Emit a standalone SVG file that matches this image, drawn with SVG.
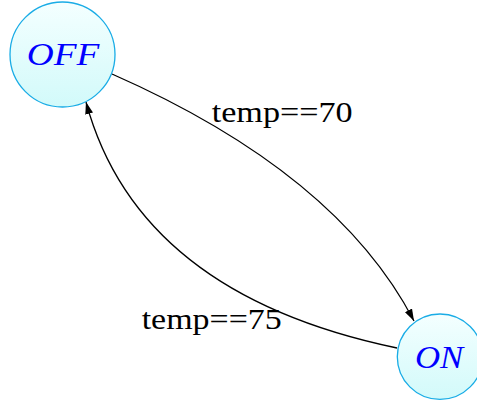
<svg xmlns="http://www.w3.org/2000/svg" width="477" height="402" viewBox="0 0 477 402">
<style>
.state{stroke:#19ace6;stroke-width:1.3;fill:url(#g)}
.slabel{font-family:"Liberation Serif",serif;font-style:italic;fill:#0000ff;font-size:32px}
.elabel{font-family:"Liberation Serif",serif;fill:#000;font-size:29px}
.edge{fill:none;stroke:#000;stroke-width:1.3}
</style>
<defs>
<linearGradient id="g" x1="0" y1="0" x2="0" y2="1">
<stop offset="0" stop-color="#f4ffff"/>
<stop offset="1" stop-color="#d2fafa"/>
</linearGradient>
<marker id="arr" viewBox="0 0 12 8" refX="12" refY="4" markerWidth="12" markerHeight="8" markerUnits="userSpaceOnUse" orient="auto">
<path d="M0,0 L12,4 L0,8 Z" fill="#000"/>
</marker>
</defs>
<g id="connectors">
<path class="edge" d="M112,74 Q337,173 414,321" marker-end="url(#arr)"/>
<path class="edge" d="M397,348 Q138,294 86,102" marker-end="url(#arr)"/>
<text class="elabel" x="211.7" y="121.7" textLength="141" lengthAdjust="spacingAndGlyphs">temp==70</text>
<text class="elabel" x="141.7" y="329.3" textLength="140" lengthAdjust="spacingAndGlyphs">temp==75</text>
</g>
<g id="OFF">
<circle class="state" cx="62.5" cy="54.5" r="52.5"/>
<text class="slabel" x="26.7" y="65" textLength="72.6" lengthAdjust="spacingAndGlyphs">OFF</text>
</g>
<g id="ON">
<circle class="state" cx="440" cy="356.7" r="42.7"/>
<text class="slabel" x="415" y="368.3" textLength="48.3" lengthAdjust="spacingAndGlyphs">ON</text>
</g>
</svg>
